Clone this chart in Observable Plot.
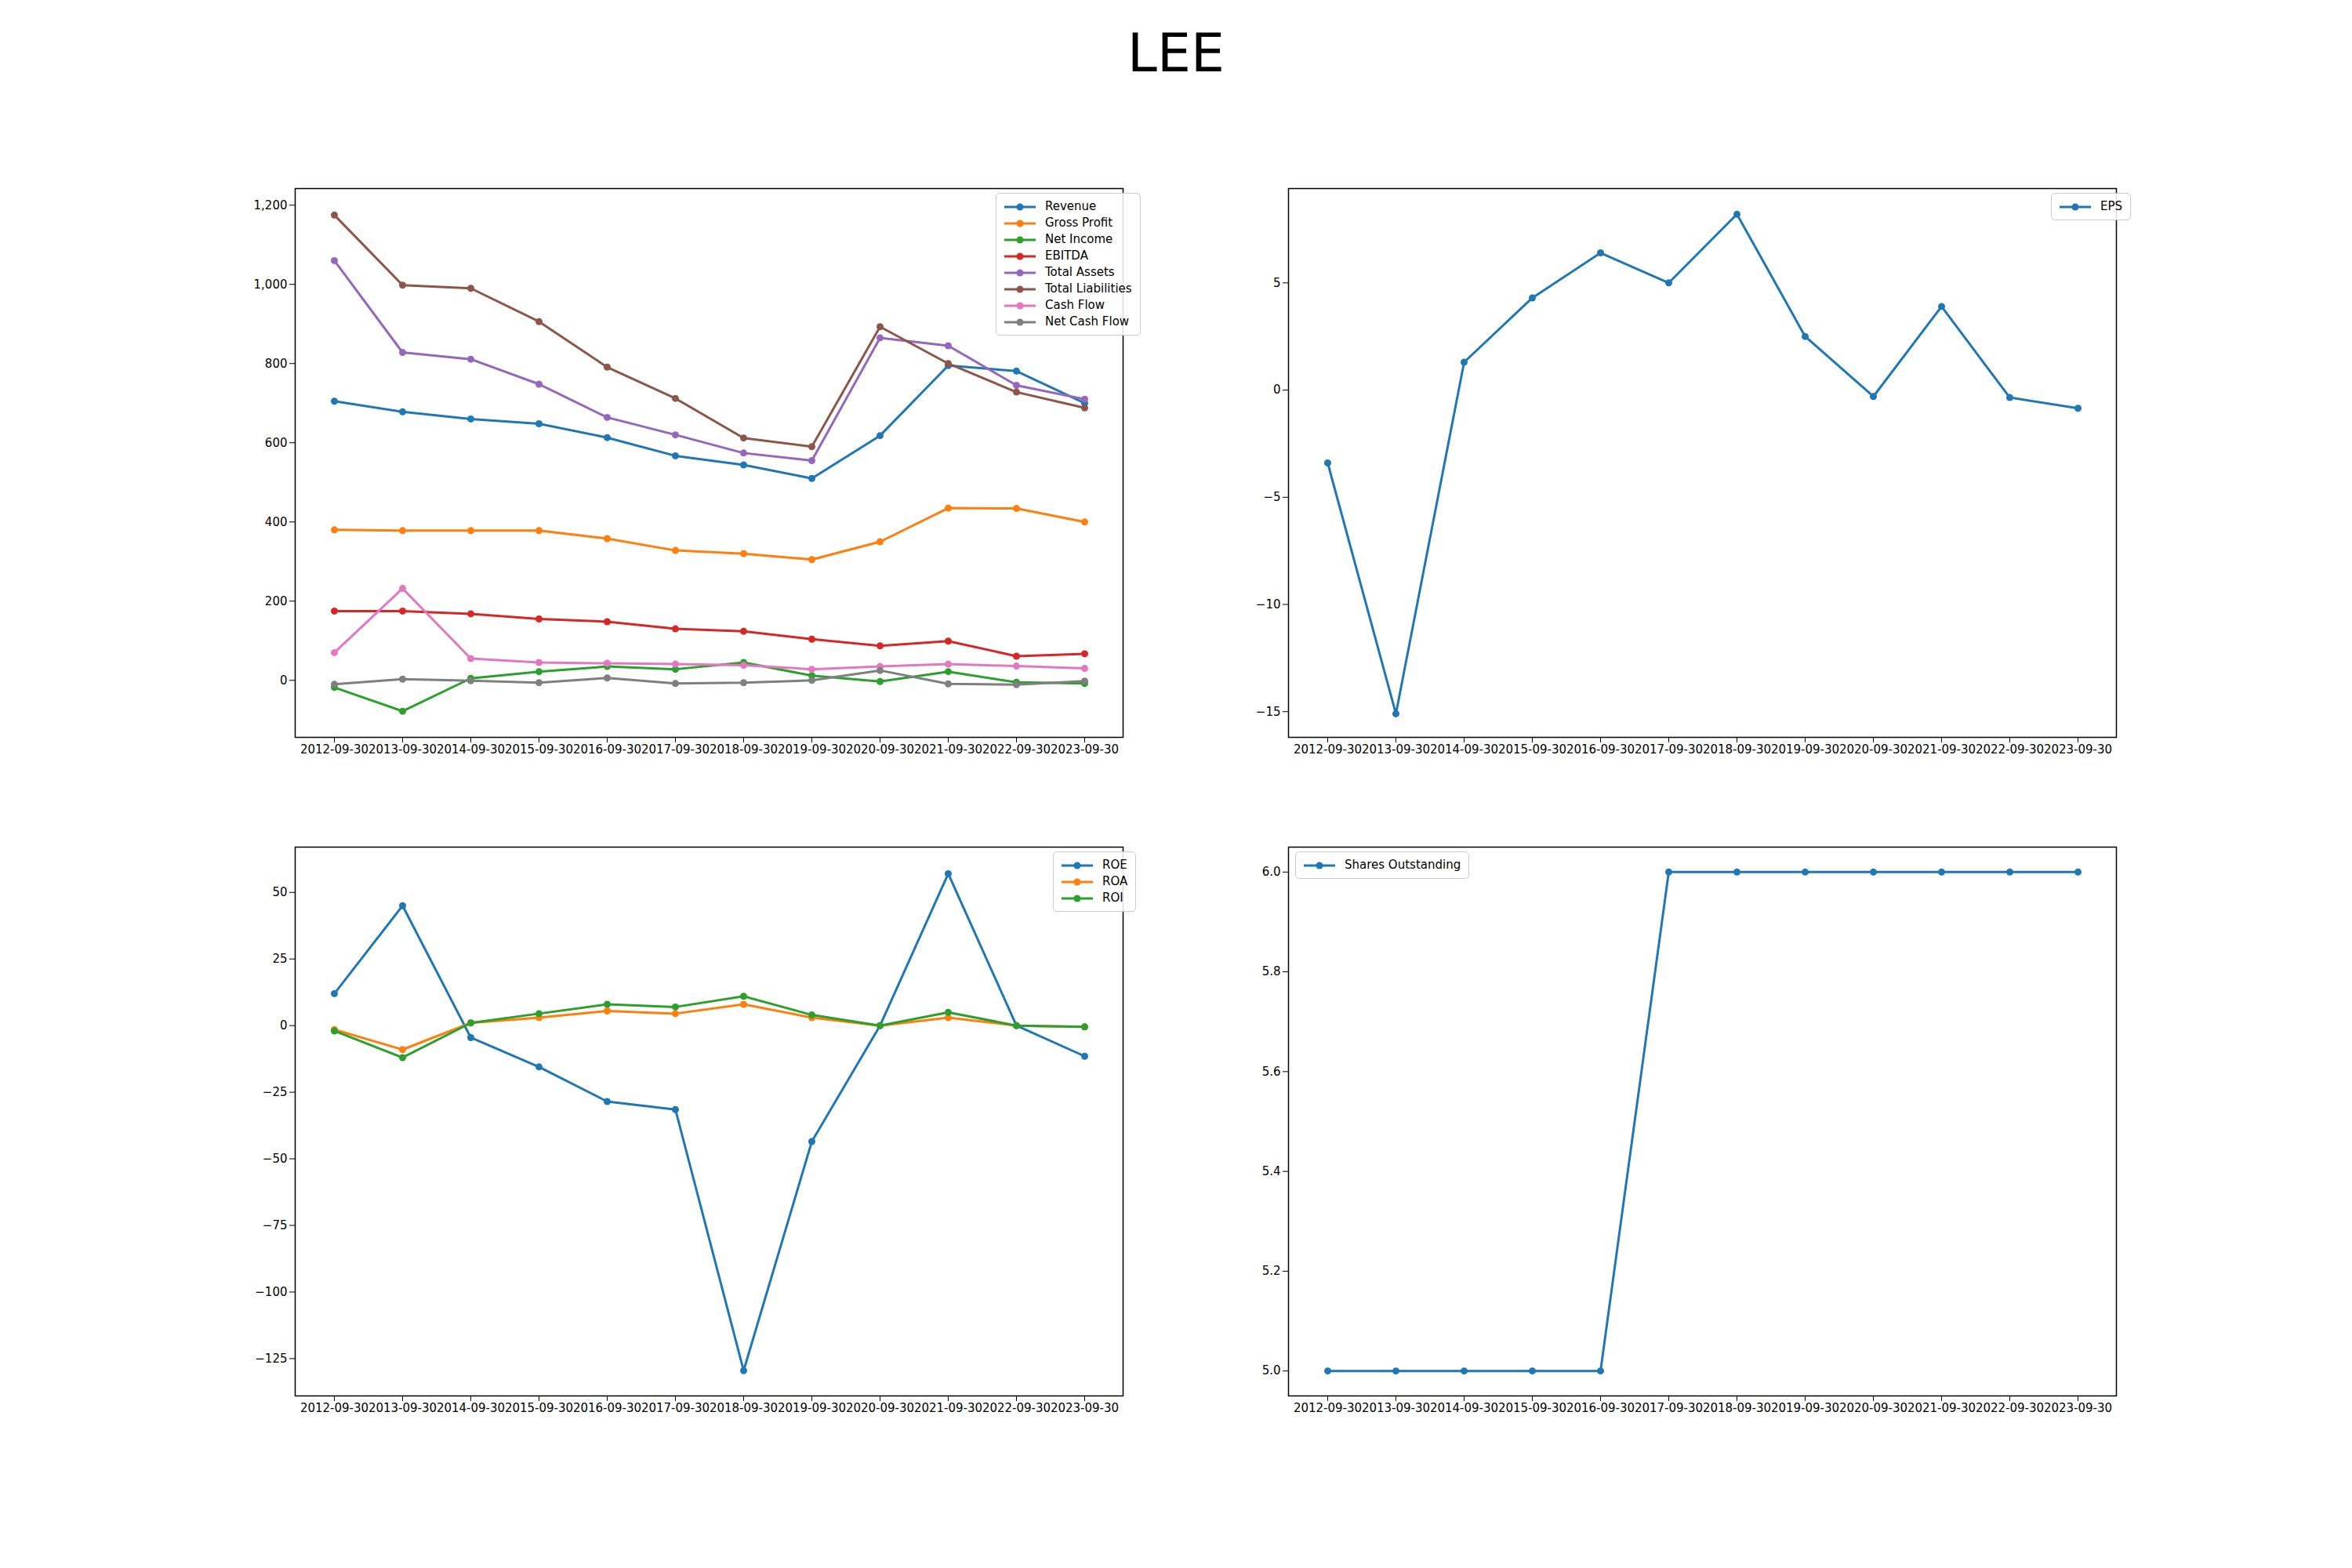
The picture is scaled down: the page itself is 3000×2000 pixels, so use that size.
<!DOCTYPE html>
<html>
<head>
<meta charset="utf-8">
<script src="https://cdn.jsdelivr.net/npm/d3@7"></script>
<script src="https://cdn.jsdelivr.net/npm/@observablehq/plot@0.6"></script>
<style>
  body { margin: 0; width: 3000px; height: 2000px; background: white; font-family: "DejaVu Sans", sans-serif; position: relative; }
  #title { position: absolute; top: 28px; width: 3000px; text-align: center; font-size: 68px; }
  .panel { position: absolute; }
  .legend { position: absolute; background: rgba(255,255,255,0.85); border: 1.5px solid #ccc; border-radius: 5px; padding: 6px 10px; font-size: 15px; line-height: 21px; }
  .legend div { display: flex; align-items: center; }
  .legend svg { margin-right: 12px; }
</style>
</head>
<body>
<div id="title">LEE</div>
<script>
// fiscal years
const dates = ["2012-09-30","2013-09-30","2014-09-30","2015-09-30","2016-09-30","2017-09-30",
               "2018-09-30","2019-09-30","2020-09-30","2021-09-30","2022-09-30","2023-09-30"];

// panel 1 (millions)
const revenue = [705, 678, 660, 648, 613, 567, 544, 510, 618, 795, 781, 700];
const grossProfit = [380, 378, 378, 378, 358, 328, 320, 305, 350, 435, 434, 400];
const netIncome = [-18, -78, 5, 22, 35, 28, 45, 12, -3, 22, -5, -8];
const ebitda = [175, 175, 168, 155, 148, 130, 124, 104, 87, 99, 61, 67];
const totalAssets = [1060, 828, 811, 748, 664, 620, 574, 555, 865, 845, 745, 710];
const totalLiabilities = [1175, 998, 990, 906, 791, 712, 612, 590, 893, 800, 728, 688];
const cashFlow = [70, 232, 55, 45, 43, 41, 38, 28, 35, 41, 36, 30];
const netCashFlow = [-10, 3, -1, -6, 6, -8, -6, 0, 25, -9, -11, -2];

// panel 2
const eps = [-3.4, -15.1, 1.3, 4.3, 6.4, 5.0, 8.2, 2.5, -0.3, 3.9, -0.35, -0.85];

// panel 3 (%)
const roe = [12, 45, -4.5, -15.5, -28.5, -31.5, -129.5, -43.5, 0, 57, 0, -11.5];
const roa = [-1.5, -9, 1, 3, 5.5, 4.5, 8, 3, 0, 3, 0, -0.5];
const roi = [-2, -12, 1, 4.5, 8, 7, 11, 4, 0, 5, 0, -0.5];

// panel 4
const shares = [5, 5, 5, 5, 5, 6, 6, 6, 6, 6, 6, 6];

const tab = ["#1f77b4","#ff7f0e","#2ca02c","#d62728","#9467bd","#8c564b","#e377c2","#7f7f7f"];

function panel(left, top, series, yOpts, legendPos) {
  const marks = [Plot.frame({stroke: "black", strokeWidth: 1.5})];
  series.forEach((s, i) => {
    const rows = dates.map((d, j) => ({date: d, value: s.values[j]}));
    marks.push(Plot.line(rows, {x: "date", y: "value", stroke: s.color, strokeWidth: 3}));
    marks.push(Plot.dot(rows, {x: "date", y: "value", fill: s.color, r: 4.5}));
  });
  const chart = Plot.plot({
    width: 1160, height: 780,
    marginLeft: 80, marginRight: 24, marginTop: 20, marginBottom: 60,
    style: {fontFamily: "DejaVu Sans", fontSize: "15px", background: "white", color: "black"},
    x: {type: "point", domain: dates, padding: 0.55, label: null, tickSize: 7},
    y: Object.assign({label: null, tickSize: 7}, yOpts),
    marks
  });
  const div = document.createElement("div");
  div.className = "panel";
  div.style.left = left + "px";
  div.style.top = top + "px";
  div.appendChild(chart);
  document.body.appendChild(div);

  const lg = document.createElement("div");
  lg.className = "legend";
  Object.assign(lg.style, legendPos);
  series.forEach(s => {
    const row = document.createElement("div");
    row.innerHTML = `<svg width="40" height="12"><line x1="0" y1="6" x2="40" y2="6" stroke="${s.color}" stroke-width="3"/><circle cx="20" cy="6" r="4.5" fill="${s.color}"/></svg>${s.name}`;
    lg.appendChild(row);
  });
  document.body.appendChild(lg);
}

panel(296, 220, [
  {name: "Revenue", values: revenue, color: tab[0]},
  {name: "Gross Profit", values: grossProfit, color: tab[1]},
  {name: "Net Income", values: netIncome, color: tab[2]},
  {name: "EBITDA", values: ebitda, color: tab[3]},
  {name: "Total Assets", values: totalAssets, color: tab[4]},
  {name: "Total Liabilities", values: totalLiabilities, color: tab[5]},
  {name: "Cash Flow", values: cashFlow, color: tab[6]},
  {name: "Net Cash Flow", values: netCashFlow, color: tab[7]}
], {domain: [-144, 1242], ticks: [0, 200, 400, 600, 800, 1000, 1200]}, {left: "1270px", top: "246px"});

panel(1563, 220, [
  {name: "EPS", values: eps, color: tab[0]}
], {domain: [-16.2, 9.4], ticks: [-15, -10, -5, 0, 5]}, {left: "2616px", top: "246px"});

panel(296, 1060, [
  {name: "ROE", values: roe, color: tab[0]},
  {name: "ROA", values: roa, color: tab[1]},
  {name: "ROI", values: roi, color: tab[2]}
], {domain: [-139, 67], ticks: [-125, -100, -75, -50, -25, 0, 25, 50]}, {left: "1343px", top: "1086px"});

panel(1563, 1060, [
  {name: "Shares Outstanding", values: shares, color: tab[0]}
], {domain: [4.95, 6.05], ticks: [5.0, 5.2, 5.4, 5.6, 5.8, 6.0], tickFormat: ".1f"}, {left: "1652px", top: "1086px"});
</script>
</body>
</html>
